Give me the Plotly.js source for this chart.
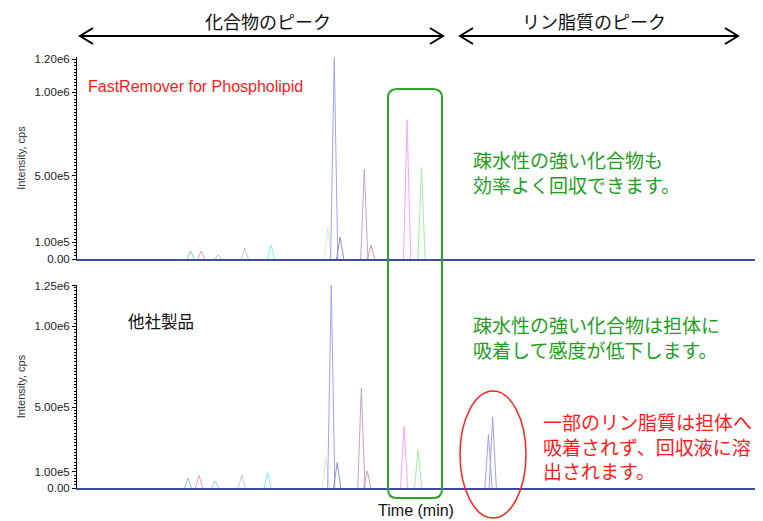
<!DOCTYPE html>
<html>
<head>
<meta charset="utf-8">
<script src="https://cdn.plot.ly/plotly-3.0.1.min.js"></script>
<style>
  body { margin: 0; background: #fff; }
  #chart { width: 763px; height: 521px; }
</style>
</head>
<body>
<div id="chart"></div>
<script>
// peak tables (time in min, intensity in cps)
var topTimes   = [2.68, 2.93, 3.33, 3.96, 4.58, 5.92, 6.07, 6.21, 6.78, 6.94, 7.79, 8.13];
var topHeights = [48000, 48000, 24000, 66000, 84000, 186000, 1210000, 132000, 540000, 84000, 834000, 550000];

var botTimes   = [2.62, 2.88, 3.26, 3.89, 4.50, 5.87, 6.00, 6.14, 6.71, 6.85, 7.72, 8.05, 9.71, 9.81];
var botHeights = [62000, 80000, 45000, 80000, 95000, 190000, 1260000, 157000, 620000, 105000, 380000, 240000, 330000, 440000];

var topTickVals = [0, 100000, 500000, 1000000, 1200000];
var topTickText = ["0.00", "1.00e5", "5.00e5", "1.00e6", "1.20e6"];
var botTickVals = [0, 100000, 500000, 1000000, 1250000];
var botTickText = ["0.00", "1.00e5", "5.00e5", "1.00e6", "1.25e6"];

// one pale colour per compound trace
var peakColors = ["#8cc8c0", "#f4a0a0", "#a8d8a8", "#c8c8c8", "#80f0f8", "#d8ecd8",
                  "#a4a4f2", "#9090d8", "#c8a0c8", "#d0a0a0", "#ffa0ff", "#a0f0a0",
                  "#a0a0f0", "#a0a0f0"];

var halfWidth = 0.085;
var topRange = [0, 1212000];
var botRange = [0, 1256000];

function peak(t, h, color, xa, ya) {
    return {
        type: "scatter", mode: "lines",
        x: [t - halfWidth, t, t + halfWidth],
        y: [0, h, 0],
        xaxis: xa, yaxis: ya,
        line: {color: color, width: 1},
        hoverinfo: "skip"
    };
}

var data = [];
for (var i = 0; i < topTimes.length; i++) {
    data.push(peak(topTimes[i], topHeights[i], peakColors[i], "x", "y"));
}
for (var j = 0; j < botTimes.length; j++) {
    data.push(peak(botTimes[j], botHeights[j], peakColors[j], "x2", "y2"));
}

// pixel -> paper helpers for the drawn decorations
var L = 77, R = 755, T = 57, B = 488;
function X(p) { return (p - L) / (R - L); }
function Y(p) { return (B - p) / (B - T); }
function P(x, y) { return X(x) + "," + Y(y); }

function arrowPath(x0, x1, y) {
    return "M " + P(x0, y) + " L " + P(x1, y) +
        " M " + P(x0 + 13, y - 8) + " L " + P(x0, y) + " L " + P(x0 + 13, y + 8) +
        " M " + P(x1 - 13, y - 8) + " L " + P(x1, y) + " L " + P(x1 - 13, y + 8);
}

function roundRect(x0, y0, x1, y1, r) {
    return "M " + P(x0 + r, y0) + " L " + P(x1 - r, y0) + " Q " + P(x1, y0) + " " + P(x1, y0 + r) +
        " L " + P(x1, y1 - r) + " Q " + P(x1, y1) + " " + P(x1 - r, y1) +
        " L " + P(x0 + r, y1) + " Q " + P(x0, y1) + " " + P(x0, y1 - r) +
        " L " + P(x0, y0 + r) + " Q " + P(x0, y0) + " " + P(x0 + r, y0) + " Z";
}

// small-tick positions every 2e4 cps along each axis
function minorVals(range) {
    var v = [];
    for (var k = 0; k <= range[1]; k += 20000) v.push(k);
    return v;
}

var jp = "Noto Sans CJK JP";
var green = "#1e9e1e";
var red = "#ff1a1a";

function note(text, x, y, size, color, anchor, family) {
    return {
        xref: "paper", yref: "paper", x: X(x), y: Y(y),
        text: text, showarrow: false, align: "left",
        xanchor: anchor || "left", yanchor: "middle",
        font: {family: family || jp, size: size, color: color}
    };
}

function yAxis(domain, range, vals, text) {
    return {
        domain: domain, range: range,
        tickmode: "array", tickvals: vals, ticktext: text,
        showgrid: false, zeroline: false, showline: true,
        linecolor: "#000", linewidth: 1,
        ticks: "outside", ticklen: 4, tickcolor: "#000",
        minor: {tickmode: "array", tickvals: minorVals(range), ticks: "outside",
                ticklen: 2, tickcolor: "#000", tickwidth: 1, showgrid: false},
        tickfont: {family: "Liberation Sans, Arial", size: 11.5, color: "#222"},
        title: {text: "Intensity, cps", standoff: 6,
                font: {family: "Liberation Sans, Arial", size: 11, color: "#333"}},
        fixedrange: true
    };
}

var xStyle = {
    range: [0, 16], showgrid: false, zeroline: false,
    showline: true, linecolor: "#3c4b9c", linewidth: 1.5,
    ticks: "", showticklabels: false
};

var layout = {
    width: 763, height: 521,
    margin: {l: L, r: 763 - R, t: T, b: 521 - B},
    showlegend: false,
    paper_bgcolor: "#fff", plot_bgcolor: "#fff",
    xaxis: Object.assign({}, xStyle, {anchor: "y"}),
    xaxis2: Object.assign({}, xStyle, {anchor: "y2",
        title: {text: "Time (min)", standoff: 16,
                font: {family: "Liberation Sans, Arial", size: 16, color: "#111"}}}),
    yaxis: yAxis([Y(259), 1], topRange, topTickVals, topTickText),
    yaxis2: yAxis([0, Y(285)], botRange, botTickVals, botTickText),
    shapes: [
        {type: "path", xref: "paper", yref: "paper", path: arrowPath(80, 443, 36),
         line: {color: "#000", width: 2}},
        {type: "path", xref: "paper", yref: "paper", path: arrowPath(460, 738, 36),
         line: {color: "#000", width: 2}},
        {type: "path", xref: "paper", yref: "paper", path: roundRect(388, 89, 442, 498, 9),
         line: {color: "#2aa52a", width: 2}},
        {type: "circle", xref: "paper", yref: "paper",
         x0: X(460), x1: X(526), y0: Y(518), y1: Y(391),
         line: {color: "#ff2020", width: 1.5}}
    ],
    annotations: [
        note("化合物のピーク", 268, 21, 18, "#111", "center"),
        note("リン脂質のピーク", 594, 21, 18, "#111", "center"),
        note("FastRemover for Phospholipid", 86, 86, 16, "#ff1a1a", "left", "Liberation Sans, Arial"),
        note("他社製品", 126, 321, 16.5, "#111"),
        note("疎水性の強い化合物も<br>効率よく回収できます。", 471, 172, 19, green),
        note("疎水性の強い化合物は担体に<br>吸着して感度が低下します。", 471, 337, 19, green),
        note("一部のリン脂質は担体へ<br>吸着されず、回収液に溶<br>出されます。", 541, 446, 19, red)
    ]
};

Plotly.newPlot("chart", data, layout, {staticPlot: true});
</script>
</body>
</html>
